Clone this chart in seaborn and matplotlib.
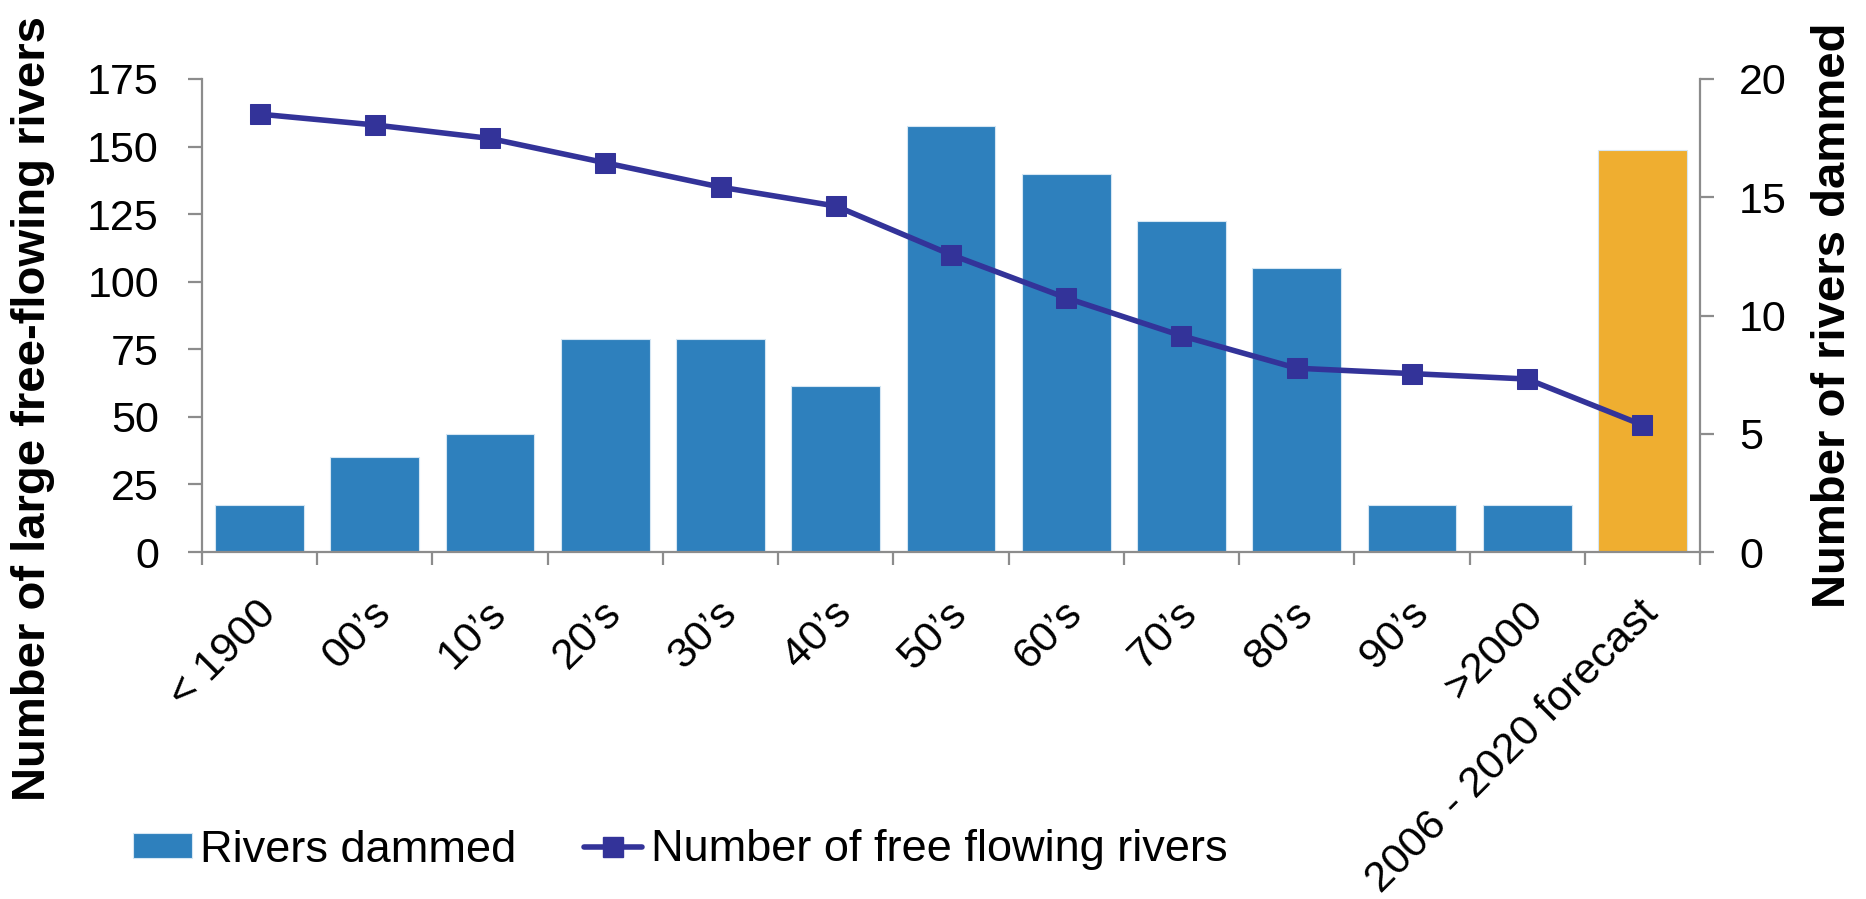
import numpy as np
import pandas as pd
import matplotlib
matplotlib.use("Agg")
import matplotlib.pyplot as plt
import matplotlib.transforms as mtransforms
from matplotlib.patches import Patch
from matplotlib.lines import Line2D
import seaborn as sns

# ---- data -------------------------------------------------------------
categories = ["< 1900", "00’s", "10’s", "20’s", "30’s", "40’s", "50’s",
              "60’s", "70’s", "80’s", "90’s", ">2000", "2006 - 2020 forecast"]
rivers_dammed = [2, 4, 5, 9, 9, 7, 18, 16, 14, 12, 2, 2, 17]
free_flowing = [162, 158, 153, 144, 135, 128, 110, 94, 80, 68, 66, 64, 47]
is_forecast = [False] * 12 + [True]

left_ticks = [0, 25, 50, 75, 100, 125, 150, 175]
right_ticks = [0, 5, 10, 15, 20]

# ---- style ------------------------------------------------------------
BAR_BLUE = "#2E80BD"
FORECAST = "#EFAE30"
LINE_COLOR = "#333399"
AXIS_GRAY = "#8C8C8C"

sns.set_theme(style="white")
plt.rcParams["font.family"] = ["Liberation Sans", "DejaVu Sans"]
plt.rcParams["text.color"] = "black"
plt.rcParams["axes.labelcolor"] = "black"

df = pd.DataFrame({"period": categories, "dammed": rivers_dammed,
                   "free": free_flowing, "forecast": is_forecast})
df["pos"] = np.arange(len(df))
palette = {c: (FORECAST if f else BAR_BLUE) for c, f in zip(categories, is_forecast)}

fig = plt.figure(figsize=(18.66, 8.99), dpi=100)
ax = fig.add_axes([202 / 1866, 1 - 552 / 899, 1498 / 1866, 473 / 899])
ax2 = ax.twinx()

# bars (right-hand scale) on the base axes so the line sits on top
sns.barplot(data=df, x="period", y="dammed", hue="period", palette=palette,
            legend=False, ax=ax, width=0.77, saturation=1,
            edgecolor="#d5e6f3", linewidth=0.8)
ax.set_xlim(-0.5, len(df) - 0.5)
ax.set_ylim(0, 20)
ax.yaxis.tick_right()
ax.yaxis.set_label_position("right")
ax.set_yticks(right_ticks)
ax.set_ylabel("Number of rivers dammed", fontsize=34, fontweight="bold",
              va="center", rotation=90, color="black")
ax.yaxis.set_label_coords(1.0888, 0.5)
ax.set_xlabel("")

# line (left-hand scale)
sns.lineplot(data=df, x="pos", y="free", ax=ax2, color=LINE_COLOR,
             linewidth=4, marker="s", markersize=14,
             markeredgecolor=LINE_COLOR, markerfacecolor=LINE_COLOR)
ax2.set_ylim(0, 175)
ax2.set_yticks(left_ticks)
ax2.yaxis.tick_left()
ax2.yaxis.set_label_position("left")
ax2.set_ylabel("Number of large free-flowing rivers", fontsize=34,
               fontweight="bold", va="center", rotation=90, color="black")
ax2.yaxis.set_label_coords(-0.1128, 0.304)
ax2.set_xlabel("")
ax.set_xlim(-0.5, len(df) - 0.5)

# spines
for a in (ax, ax2):
    for s in a.spines.values():
        s.set_visible(False)
ax.spines["bottom"].set_visible(True)
ax.spines["right"].set_visible(True)
ax2.spines["left"].set_visible(True)
for s in (ax.spines["bottom"], ax.spines["right"], ax2.spines["left"]):
    s.set_color(AXIS_GRAY)
    s.set_linewidth(1.6)

# y ticks
ax.tick_params(axis="y", which="major", direction="out", length=10,
               width=1.6, color=AXIS_GRAY, labelsize=31, pad=18,
               labelcolor="black", right=True, left=False)
ax2.tick_params(axis="y", which="major", direction="out", length=10,
                width=1.6, color=AXIS_GRAY, labelsize=31, pad=21,
                labelcolor="black", left=True, right=False)

# x ticks: marks at category boundaries, labels at centres
ax.set_xticks(df["pos"])
ax.set_xticklabels(categories, rotation=45, ha="right", va="center",
                   rotation_mode="anchor")
ax.set_xticks(np.arange(-0.5, len(df), 1.0), minor=True)
ax.tick_params(axis="x", which="major", length=0, labelsize=31, pad=40,
               labelcolor="black", bottom=True)
ax.tick_params(axis="x", which="minor", direction="out", length=9.5,
               width=1.6, color=AXIS_GRAY, bottom=True)
shift = mtransforms.ScaledTranslation(10 / 100, 0, fig.dpi_scale_trans)
for lab in ax.get_xticklabels():
    lab.set_transform(lab.get_transform() + shift)

ax.grid(False)
ax2.grid(False)

# legend
handles = [
    Patch(facecolor=BAR_BLUE, edgecolor="#d5e6f3", linewidth=0.8),
    Line2D([0], [0], color=LINE_COLOR, linewidth=4, marker="s",
           markersize=14, markeredgecolor=LINE_COLOR),
]
leg = fig.legend(handles, ["Rivers dammed", "Number of free flowing rivers"],
                 loc="center left", bbox_to_anchor=(133 / 1866, 1 - 850 / 899),
                 ncol=2, frameon=False, fontsize=32.5, handlelength=1.3,
                 handleheight=0.5, handletextpad=0.18, columnspacing=1.5,
                 borderpad=0, borderaxespad=0)
for t in leg.get_texts():
    t.set_color("black")

fig.savefig("out.png", dpi=100, facecolor="white")
